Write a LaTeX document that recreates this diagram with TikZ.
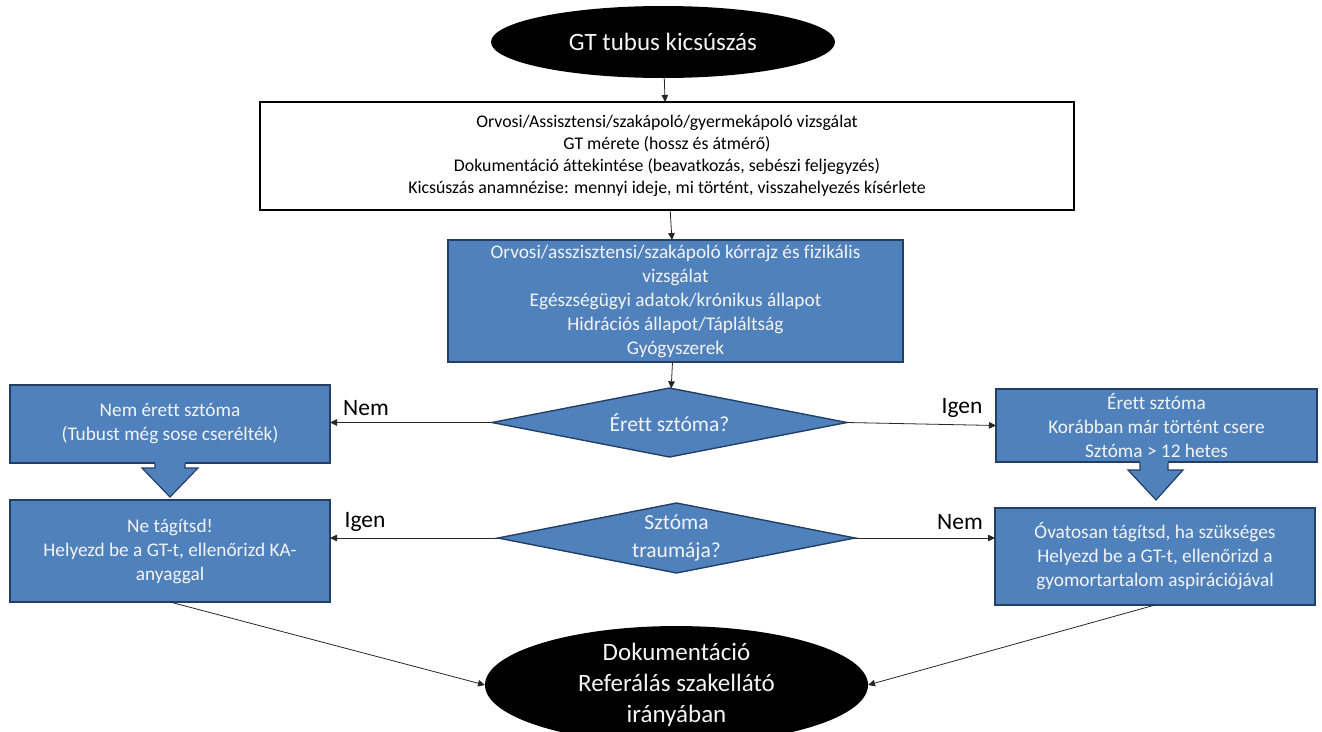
\documentclass[tikz,border=0pt]{standalone}
\usepackage{fontspec}
\setmainfont{Carlito}[Ligatures=NoCommon]
\usetikzlibrary{shapes.geometric,arrows.meta,calc}
\definecolor{boxblue}{HTML}{4F81BD}
\definecolor{boxline}{HTML}{243F66}
\definecolor{boxtext}{HTML}{F4F4F4}
\begin{document}
\begin{tikzpicture}[x=1pt,y=-1pt,
  every node/.style={inner sep=0pt, outer sep=0pt},
  terminal/.style={ellipse, fill=black, text=boxtext, align=center},
  whitebox/.style={rectangle, draw=black, line width=1.6pt, fill=white, align=center,
    font=\fontsize{17.8}{22}\selectfont},
  bluebox/.style={rectangle, draw=boxline, line width=1.4pt, fill=boxblue, text=boxtext,
    align=center, font=\fontsize{19.3}{24}\selectfont},
  decision/.style={diamond, draw=boxline, line width=1.4pt, fill=boxblue, text=boxtext,
    align=center, font=\fontsize{21.5}{28}\selectfont},
  branch/.style={font=\fontsize{23.5}{26}\selectfont},
  conn/.style={draw=black!85, line width=0.8pt, -{Triangle[length=7pt,width=6.5pt]}},
  blockarrow/.style={fill=boxblue, draw=boxline, line width=1.2pt, line join=miter}]
\useasboundingbox (0,0) rectangle (1322,731);

% start and end terminals
\node[terminal, minimum width=344, minimum height=72, font=\fontsize{25}{30}\selectfont]
  (start) at (663,42) {GT tubus kicsúszás};
\node[terminal, minimum width=383, minimum height=102, font=\fontsize{25}{31}\selectfont]
  (stop) at (676.5,685) {Dokumentáció\\Referálás szakellátó\\irányában};

% examination boxes
\node[whitebox, minimum width=814, minimum height=108] (exam) at (667,156)
  {Orvosi/Assisztensi/szakápoló/gyermekápoló vizsgálat\\
   GT mérete (hossz és átmérő)\\
   Dokumentáció áttekintése (beavatkozás, sebészi feljegyzés)\\
   Kicsúszás anamnézise: mennyi ideje, mi történt, visszahelyezés kísérlete};
\node[bluebox, minimum width=455, minimum height=122] (history) at (675.5,301)
  {Orvosi/asszisztensi/szakápoló kórrajz és fizikális\\
   vizsgálat\\
   Egészségügyi adatok/krónikus állapot\\
   Hidrációs állapot/Tápláltság\\
   Gyógyszerek};

% decisions
\node[decision, minimum width=355, minimum height=69, aspect=5.1] (mature) at (669.5,422.5)
  {Érett sztóma?};
\node[decision, minimum width=357, minimum height=70, aspect=5.1] (trauma) at (676.5,538)
  {Sztóma\\traumája?};

% outcome boxes
\node[bluebox, minimum width=320, minimum height=78] (immature) at (170,424)
  {Nem érett sztóma\\(Tubust még sose cserélték)};
\node[bluebox, minimum width=321, minimum height=73] (matureok) at (1156.5,425.5)
  {Érett sztóma\\Korábban már történt csere\\Sztóma > 12 hetes};
\node[bluebox, minimum width=320, minimum height=102] (nodilate) at (170,551)
  {Ne tágítsd!\\Helyezd be a GT-t, ellenőrizd KA-\\anyaggal};
\node[bluebox, minimum width=320, minimum height=97] (dilate) at (1155,556.5)
  {Óvatosan tágítsd, ha szükséges\\Helyezd be a GT-t, ellenőrizd a\\gyomortartalom aspirációjával};

% block arrows between the stacked boxes
\fill[boxblue] ($(immature.south)+(-15,-2)$) -- ++(0,7) -- ++(-13,0) -- ($(nodilate.north)+(0,-3)$)
  -- ($(immature.south)+(28,5)$) -- ++(-13,0) -- ++(0,-7) -- cycle;
\draw[blockarrow, fill=none] ($(immature.south)+(-15,0.7)$) -- ++(0,4.3) -- ++(-13,0)
  -- ($(nodilate.north)+(0,-3)$) -- ($(immature.south)+(28,5)$) -- ++(-13,0) -- ++(0,-4.3);
\fill[boxblue] ($(matureok.south)+(-16.5,-2)$) -- ++(0,10) -- ++(-12,0) -- ($(dilate.north)+(1,-8)$)
  -- ($(matureok.south)+(26.5,8)$) -- ++(-15,0) -- ++(0,-10) -- cycle;
\draw[blockarrow, fill=none] ($(matureok.south)+(-16.5,0.7)$) -- ++(0,7.3) -- ++(-12,0)
  -- ($(dilate.north)+(1,-8)$) -- ($(matureok.south)+(26.5,8)$) -- ++(-15,0) -- ++(0,-7.3);

% connectors
\draw[conn] (start) -- (exam);
\draw[conn] (exam) -- (history);
\draw[conn] (history) -- (mature);
\draw[conn] (mature.west) -- (mature.west -| immature.east);
\draw[conn] (mature.east) -- (matureok.west);
\draw[conn] (trauma.west) -- (trauma.west -| nodilate.east);
\draw[conn] (trauma.east) -- (trauma.east -| dilate.west);
\draw[conn] (nodilate.south) -- (stop.west);
\draw[conn] (dilate.south) -- (stop.east);

% branch labels
\node[branch] (lnem1) at (366,408) {Nem};
\node[branch] (ligen1) at (962,408) {Igen};
\node[branch] (ligen2) at (365,522) {Igen};
\node[branch] (lnem2) at (960,522) {Nem};
\end{tikzpicture}
\end{document}
